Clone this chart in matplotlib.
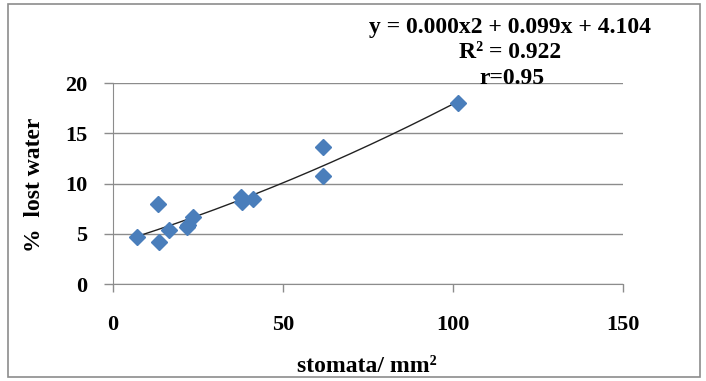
import numpy as np
import matplotlib
matplotlib.use("Agg")
import matplotlib.pyplot as plt
from matplotlib.patches import Rectangle

stomata = [7.2, 13.1, 13.4, 16.6, 21.7, 22.2, 23.4, 37.6, 37.8, 41.3, 61.9, 61.9, 101.6]
lost_water = [4.7, 8.0, 4.2, 5.4, 5.7, 5.9, 6.7, 8.7, 8.2, 8.5, 13.6, 10.7, 18.0]
x_ticks = [0, 50, 100, 150]
y_ticks = [0, 5, 10, 15, 20]
eq_lines = ["y = 0.000x2 + 0.099x + 4.104", "R² = 0.922", "r=0.95"]

W, H = 706, 381
fig = plt.figure(figsize=(W / 100, H / 100), dpi=100)
fig.patch.set_facecolor("white")
fig.patches.append(Rectangle((8 / W, 4 / H), 692 / W, 373 / H, transform=fig.transFigure,
                             fill=False, edgecolor="#8c8c8c", linewidth=1.2))

ax = fig.add_axes([113 / W, 1 - 284 / H, 510 / W, 201 / H])
ax.set_xlim(0, 150)
ax.set_ylim(0, 20)
ax.set_xticks(x_ticks)
ax.set_yticks(y_ticks)
ax.yaxis.grid(True, color="#8c8c8c", linewidth=1.0)
ax.set_axisbelow(True)
for s in ["top", "right"]:
    ax.spines[s].set_visible(False)
for s in ["left", "bottom"]:
    ax.spines[s].set_color("#8c8c8c")
ax.tick_params(axis="x", color="#8c8c8c", length=5.5, direction="out", width=1, pad=17)
ax.tick_params(axis="y", color="#8c8c8c", length=6.5, direction="out", width=1, pad=12)
for lab in ax.get_xticklabels() + ax.get_yticklabels():
    lab.set_fontfamily("Liberation Serif")
    lab.set_fontweight("bold")
    lab.set_fontsize(16)

coef = np.polyfit(stomata, lost_water, 2)
xs = np.linspace(min(stomata), max(stomata), 200)
ax.plot(xs, np.polyval(coef, xs), color="#222222", linewidth=1.0, zorder=3)
ax.plot(stomata, lost_water, linestyle="none", marker="D", markersize=8.4,
        color="#4a7ebb", markeredgecolor="#4a7ebb", zorder=4, clip_on=False)

fig.text(367 / W, 1 - 366 / H, "stomata/ mm²", ha="center", va="center",
         family="Liberation Serif", weight="bold", size=17)
fig.text(34 / W, 1 - 185 / H, "%  lost water", ha="center", va="center", rotation=90,
         family="Liberation Serif", weight="bold", size=17)

eq_font = dict(family="Liberation Serif", weight="bold", size=17)
fig.text(510 / W, 1 - 27 / H, eq_lines[0], ha="center", va="center", **eq_font)
fig.text(510 / W, 1 - 53 / H, eq_lines[1], ha="center", va="center", **eq_font)
fig.text(512 / W, 1 - 79 / H, eq_lines[2], ha="center", va="center", **eq_font)

fig.savefig("out.png", dpi=100)
